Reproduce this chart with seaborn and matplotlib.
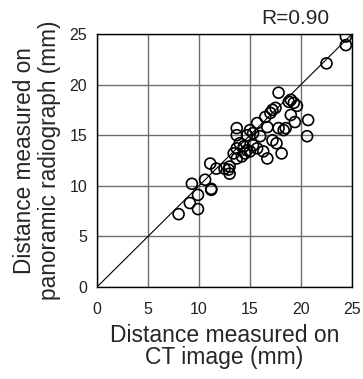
import numpy as np
import pandas as pd
import matplotlib
matplotlib.use('Agg')
import matplotlib.pyplot as plt
import seaborn as sns
from matplotlib.ticker import MultipleLocator

# distances (mm)
ct_image = [24.4, 24.4, 22.5, 17.8, 18.8, 19.3, 19.6, 19.0, 19.0, 20.7,
            20.6, 19.4, 18.5, 18.3, 17.8, 17.2, 17.5, 17.0, 16.5, 15.7,
            16.7, 13.7, 13.7, 15.0, 15.3, 14.7, 16.0, 17.2, 17.6, 18.1,
            16.7, 16.3, 14.0, 14.4, 14.7, 15.0, 14.5, 14.2, 13.7, 15.3,
            15.7, 13.4, 13.7, 13.0, 12.9, 13.0, 12.5, 11.7, 11.1, 10.6,
            11.2, 11.2, 9.3, 9.9, 9.1, 9.9, 8.0]
radiograph = [24.75, 23.9, 22.1, 19.2, 18.3, 18.2, 17.9, 18.5, 17.0, 16.5,
              14.9, 16.3, 15.7, 15.5, 15.7, 17.5, 17.7, 17.2, 16.8, 16.2,
              15.8, 15.7, 15.0, 15.5, 15.2, 15.0, 14.9, 14.5, 14.2, 13.2,
              12.7, 13.4, 14.2, 13.9, 13.5, 13.4, 13.2, 12.9, 13.7, 14.0,
              13.7, 13.2, 12.7, 11.9, 11.6, 11.2, 11.7, 11.7, 12.2, 10.6,
              9.7, 9.6, 10.2, 9.1, 8.3, 7.7, 7.2]
r_value = 0.90

df = pd.DataFrame({'ct': ct_image, 'pano': radiograph})

sns.set_style('white')
plt.rcParams['font.family'] = ['Liberation Sans', 'DejaVu Sans']

fig = plt.figure(figsize=(3.63, 3.79), dpi=100)
ax = fig.add_axes([97 / 363, 1 - 287 / 379, 255 / 363, 253 / 379])

# identity line
ax.plot([0, 25], [0, 25], color='black', lw=0.8, zorder=2)
sns.scatterplot(data=df, x='ct', y='pano', ax=ax, s=62, marker='o',
                facecolor='none', edgecolor='black', linewidth=1.2, zorder=3)

ax.set_xlim(0, 25)
ax.set_ylim(0, 25)
ax.xaxis.set_major_locator(MultipleLocator(5))
ax.yaxis.set_major_locator(MultipleLocator(5))
ax.xaxis.set_minor_locator(MultipleLocator(1))
ax.yaxis.set_minor_locator(MultipleLocator(1))
ax.grid(True, which='major', color='#6e6e6e', lw=1.0)
ax.tick_params(which='major', direction='in', length=0, labelsize=11.5,
               labelcolor='#222222')
ax.tick_params(axis='x', which='major', pad=11)
ax.tick_params(axis='y', which='major', pad=7)
ax.tick_params(which='minor', direction='in', length=3, color='#777777')
for s in ax.spines.values():
    s.set_color('black')
    s.set_linewidth(1.0)

ax.set_xlabel('Distance measured on\nCT image (mm)', fontsize=16.5,
              linespacing=0.95, labelpad=5)
ax.set_ylabel('Distance measured on\npanoramic radiograph (mm)', fontsize=16.3,
              linespacing=1.1, labelpad=6)
ax.text(0.91, 1.025, f'R={r_value:.2f}', transform=ax.transAxes,
        ha='right', va='bottom', fontsize=15)

fig.savefig('out.png', dpi=100)
